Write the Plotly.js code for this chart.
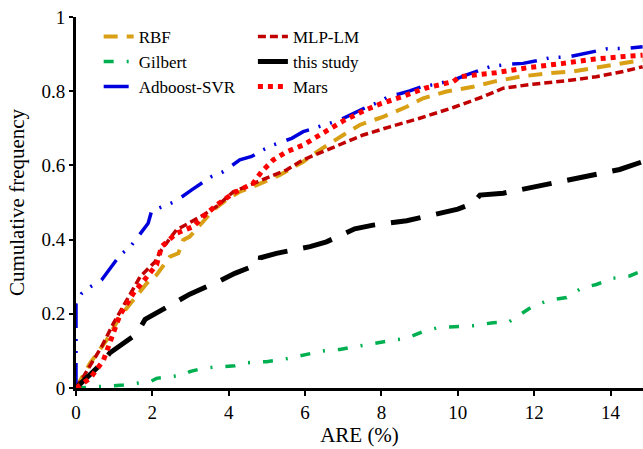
<!DOCTYPE html>
<html><head><meta charset="utf-8">
<script src="https://cdn.plot.ly/plotly-3.0.1.min.js"></script>
<style>body{margin:0;padding:0;background:#fff;}</style>
</head><body>
<div id="chart"></div>
<script>
// RBF
const rbfX = [0,0.37,0.8,1.15,1.5,1.85,2.11,2.46,2.68,2.81,2.98,3.29,3.6,3.94,4.29,4.73,5.34,5.95,6.39,7.0,7.43,8.04,8.66,9.09,9.7,10.4,11.0,11.62,12.32,13.0,13.63,14.24,14.84];
const rbfY = [0,0.067,0.129,0.192,0.237,0.282,0.305,0.354,0.363,0.399,0.408,0.444,0.48,0.507,0.529,0.547,0.574,0.61,0.642,0.682,0.709,0.731,0.758,0.781,0.799,0.812,0.827,0.839,0.848,0.853,0.864,0.875,0.884];
// MLP-LM
const mlpX = [0,0.19,0.67,0.98,1.28,1.68,2.07,2.2,2.46,2.63,3.33,3.68,4.12,4.55,5.08,5.52,5.95,6.47,7.09,7.52,8.22,9.0,9.88,10.66,11.19,11.97,12.85,13.63,14.33,14.84];
const mlpY = [0,0.03,0.111,0.174,0.228,0.30,0.34,0.367,0.403,0.426,0.466,0.489,0.529,0.547,0.57,0.588,0.615,0.637,0.664,0.682,0.704,0.727,0.756,0.785,0.808,0.819,0.828,0.839,0.853,0.866];
// Gilbert
const gilX = [0,0.28,0.63,1.24,1.59,1.94,2.11,2.46,2.81,2.98,3.24,3.6,4.16,4.47,4.99,5.43,5.95,6.47,6.91,7.43,7.74,8.31,8.66,9.09,9.49,10.05,10.4,10.92,11.32,11.62,11.97,12.41,12.85,13.24,13.63,14.07,14.5,14.84];
const gilY = [0,0.001,0.004,0.008,0.013,0.017,0.026,0.03,0.035,0.044,0.051,0.056,0.06,0.068,0.071,0.077,0.089,0.1,0.104,0.114,0.12,0.129,0.134,0.152,0.163,0.165,0.168,0.176,0.177,0.197,0.221,0.237,0.244,0.269,0.279,0.296,0.302,0.316];
// this study
const studyX = [0,0.63,0.89,1.59,1.81,2.55,2.98,3.73,4.16,4.82,4.83,5.25,6.13,6.56,7.3,7.78,8.66,9.14,10.0,10.4,10.58,11.19,11.62,12.5,12.93,13.8,14.24,14.84];
const studyY = [0,0.062,0.095,0.146,0.185,0.226,0.253,0.287,0.309,0.336,0.351,0.363,0.381,0.394,0.429,0.439,0.451,0.462,0.482,0.498,0.52,0.525,0.534,0.552,0.561,0.58,0.589,0.61];
// Adboost-SVR
const adbX = [0,0,0.15,0.41,0.67,0.98,1.15,1.41,1.59,1.89,1.98,2.29,2.59,3.03,3.29,3.55,3.86,4.29,4.6,4.86,5.17,5.65,5.95,6.9,7.61,7.96,8.26,8.44,8.74,9.05,9.44,9.88,10.23,10.84,11.36,11.71,12.06,12.41,12.93,13.28,13.59,13.89,14.5,14.84];
const adbY = [0,0.228,0.255,0.275,0.291,0.332,0.358,0.379,0.403,0.444,0.477,0.49,0.502,0.534,0.553,0.57,0.583,0.615,0.624,0.64,0.655,0.673,0.691,0.722,0.757,0.772,0.79,0.792,0.801,0.812,0.819,0.83,0.844,0.866,0.873,0.875,0.882,0.89,0.893,0.9,0.907,0.914,0.916,0.92];
// Mars
const marsX = [0,0.37,0.72,1.15,1.5,1.94,2.11,2.24,2.63,3.07,3.33,3.68,4.12,4.64,4.86,5.17,5.52,5.95,6.3,6.56,7.0,7.57,8.0,8.48,9.14,9.88,10.05,11.0,11.8,12.76,13.54,14.52,14.84];
const marsY = [0,0.026,0.075,0.197,0.255,0.314,0.332,0.381,0.417,0.435,0.462,0.493,0.525,0.552,0.583,0.615,0.637,0.655,0.677,0.695,0.72,0.749,0.767,0.783,0.808,0.826,0.839,0.85,0.863,0.875,0.886,0.895,0.897];

const xTicks = [0,2,4,6,8,10,12,14];
const yTicks = [0,0.2,0.4,0.6,0.8,1];
const yTickText = ['0','0.2','0.4','0.6','0.8','1'];

const FAM = 'Times New Roman';

const traces = [
  {name:'RBF', x:rbfX, y:rbfY, mode:'lines', line:{color:'#D9A015', width:4, dash:'14px,9px'}, legend:'legend'},
  {name:'Gilbert', x:gilX, y:gilY, mode:'lines', line:{color:'#00B050', width:3.5, dash:'10px,13px,2px,13px'}, legend:'legend'},
  {name:'Adboost-SVR', x:adbX, y:adbY, mode:'lines', line:{color:'#0000DD', width:3.5, dash:'25px,10px,2px,10px,2px,11px'}, legend:'legend'},
  {name:'MLP-LM', x:mlpX, y:mlpY, mode:'lines', line:{color:'#C00000', width:3.5, dash:'8px,4px'}, legend:'legend2'},
  {name:'this study', x:studyX, y:studyY, mode:'lines', line:{color:'#000000', width:5, dash:'30px,16px'}, legend:'legend2'},
  {name:'Mars', x:marsX, y:marsY, mode:'lines', line:{color:'#FF0000', width:5, dash:'5px,5px'}, legend:'legend2'}
];

const layout = {
  width:643, height:449,
  margin:{l:76, r:0, t:17, b:61},
  paper_bgcolor:'#fff', plot_bgcolor:'#fff',
  font:{family:FAM, color:'#000'},
  showlegend:true,
  xaxis:{range:[0,14.85], tickvals:xTicks, ticks:'outside', ticklen:5, tickwidth:2, tickcolor:'#000',
    showline:true, linewidth:3, linecolor:'#000', showgrid:false, zeroline:false,
    tickfont:{family:FAM, size:19}, title:{text:'ARE (%)', font:{family:FAM, size:21}, standoff:6}},
  yaxis:{range:[0,1], tickvals:yTicks, ticktext:yTickText, ticks:'outside', ticklen:4, tickwidth:2, tickcolor:'#000',
    showline:true, linewidth:3, linecolor:'#000', showgrid:false, zeroline:false,
    tickfont:{family:FAM, size:19}, title:{text:'Cumulative frequency', font:{family:FAM, size:21}, standoff:12}},
  legend:{x:0.04, y:0.995, xanchor:'left', yanchor:'top', bgcolor:'rgba(0,0,0,0)', font:{family:FAM, size:17}, tracegroupgap:0, itemwidth:30},
  legend2:{x:0.312, y:0.995, xanchor:'left', yanchor:'top', bgcolor:'rgba(0,0,0,0)', font:{family:FAM, size:17}, tracegroupgap:0, itemwidth:30}
};

function forceSerif(){
  document.querySelectorAll('#chart svg text').forEach(function(el){
    el.setAttribute('font-family', 'Liberation Serif');
    el.style.setProperty('font-family', '"Liberation Serif", "Times New Roman", serif', 'important');
  });
}

Plotly.newPlot('chart', traces, layout, {displayModeBar:false}).then(function(gd){
  forceSerif();
  gd.on('plotly_afterplot', forceSerif);
});
</script></body></html>
